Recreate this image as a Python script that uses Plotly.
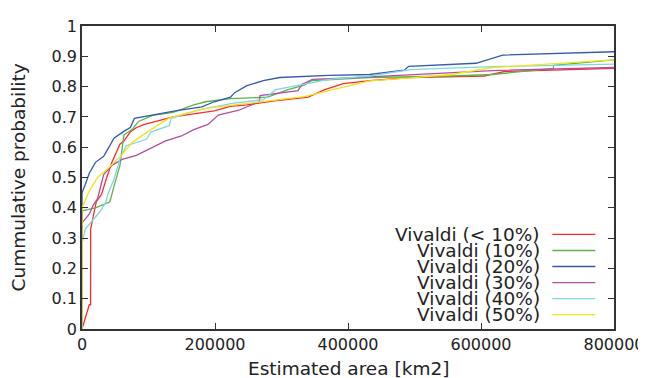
import plotly.graph_objects as go

names = ["Vivaldi (< 10%)", "Vivaldi (10%)", "Vivaldi (20%)", "Vivaldi (30%)", "Vivaldi (40%)", "Vivaldi (50%)"]
colors = ["#ff2a2a", "#5cb548", "#3558b0", "#b04fa2", "#7fd6e6", "#f2e41c"]

red_x = [0, 11000, 12900, 13000, 21500, 29500, 35700, 45000, 57000, 63000, 72500, 82000, 94000, 137000, 199000, 223000, 248000, 297000, 340000, 365000, 393000, 433000, 494000, 605000, 636000, 800000]
red_y = [0, 0.08, 0.08, 0.33, 0.42, 0.445, 0.49, 0.55, 0.61, 0.62, 0.65, 0.665, 0.675, 0.70, 0.72, 0.735, 0.74, 0.755, 0.765, 0.79, 0.81, 0.82, 0.83, 0.835, 0.85, 0.86]

green_x = [0, 0, 20000, 42000, 48000, 57000, 63000, 76000, 85000, 106000, 137000, 168000, 186000, 223000, 279000, 310000, 334000, 346000, 433000, 556000, 617000, 679000, 709000, 709000, 800000]
green_y = [0, 0.39, 0.40, 0.42, 0.47, 0.54, 0.64, 0.66, 0.685, 0.705, 0.715, 0.74, 0.75, 0.76, 0.765, 0.79, 0.805, 0.82, 0.83, 0.835, 0.84, 0.855, 0.86, 0.87, 0.888]

blue_x = [0, 0, 4900, 11100, 20300, 32600, 41800, 48000, 63400, 72600, 78800, 91100, 124900, 140300, 180300, 198800, 223400, 229500, 248000, 272600, 297200, 371100, 432600, 484900, 491100, 592600, 632600, 740300, 800000]
blue_y = [0, 0.45, 0.477, 0.515, 0.55, 0.57, 0.605, 0.63, 0.653, 0.665, 0.695, 0.70, 0.712, 0.72, 0.733, 0.75, 0.765, 0.78, 0.803, 0.82, 0.83, 0.837, 0.84, 0.854, 0.867, 0.877, 0.904, 0.912, 0.915]

purple_x = [0, 0, 11100, 17200, 23400, 32600, 44900, 60300, 81800, 100300, 124900, 149500, 168000, 189500, 204900, 235700, 266500, 267700, 297200, 324900, 331100, 346500, 401900, 494200, 617200, 800000]
purple_y = [0, 0.35, 0.38, 0.41, 0.43, 0.51, 0.54, 0.56, 0.573, 0.594, 0.62, 0.637, 0.658, 0.675, 0.706, 0.722, 0.75, 0.77, 0.778, 0.787, 0.808, 0.824, 0.829, 0.84, 0.853, 0.863]

cyan_x = [0, 0, 4900, 14200, 26500, 35700, 38800, 48000, 57200, 66500, 81800, 97200, 103400, 131100, 134200, 149500, 174200, 223400, 272600, 291100, 309500, 346500, 371100, 432600, 494200, 617200, 800000]
cyan_y = [0, 0.28, 0.33, 0.354, 0.386, 0.418, 0.445, 0.493, 0.562, 0.605, 0.616, 0.626, 0.65, 0.671, 0.695, 0.706, 0.722, 0.744, 0.757, 0.79, 0.797, 0.813, 0.824, 0.835, 0.856, 0.866, 0.874]

yellow_x = [0, 0, 11100, 23400, 38800, 57200, 75700, 100300, 131100, 155700, 186500, 223400, 272600, 334200, 371100, 432600, 494200, 555700, 617200, 800000]
yellow_y = [0, 0.40, 0.456, 0.50, 0.53, 0.568, 0.616, 0.653, 0.696, 0.712, 0.728, 0.738, 0.749, 0.767, 0.787, 0.819, 0.829, 0.84, 0.863, 0.888]

series_x = [red_x, green_x, blue_x, purple_x, cyan_x, yellow_x]
series_y = [red_y, green_y, blue_y, purple_y, cyan_y, yellow_y]

x_ticks = [0, 200000, 400000, 600000, 800000]
y_ticks = [0, 0.1, 0.2, 0.3, 0.4, 0.5, 0.6, 0.7, 0.8, 0.9, 1]

font_family = "DejaVu Sans"
text_color = "#222222"

fig = go.Figure()
for name, c, xs, ys in zip(names, colors, series_x, series_y):
    fig.add_trace(go.Scatter(x=xs, y=ys, mode="lines", name=name,
                             line=dict(color=c, width=1.3), showlegend=False))

axis_common = dict(showgrid=False, zeroline=False, showline=True, linecolor="#333333",
                   linewidth=1.5, mirror="allticks", ticks="inside", ticklen=6,
                   tickcolor="#333333", tickwidth=1,
                   tickfont=dict(family=font_family, size=16, color=text_color))

# page body has an 8px default margin; compensate so the plot sits where the reference has it
fig.update_layout(
    width=646, height=378,
    margin=dict(l=74, r=36, t=9, b=57),
    paper_bgcolor="white", plot_bgcolor="white",
    font=dict(family=font_family, size=16, color=text_color),
    xaxis=dict(range=[0, 800000], tickvals=x_ticks, tickformat="d", **axis_common),
    yaxis=dict(range=[0, 1], tickvals=y_ticks, **axis_common),
)

title_font = dict(family=font_family, size=18.5, color=text_color)
annotations = [
    dict(text="Estimated area [km2]", x=0.5, xref="paper", y=0, yref="paper",
         yshift=-39, yanchor="middle", showarrow=False, font=title_font),
    dict(text="Cummulative probability", x=0, xref="paper", y=0.5, yref="paper",
         xshift=-64, xanchor="center", yanchor="middle", textangle=-90, showarrow=False,
         font=title_font),
]
shapes = []
row_y0 = 0.312  # paper y of first legend row
row_step = 0.0529
for i, (name, c) in enumerate(zip(names, colors)):
    yy = row_y0 - i * row_step
    annotations.append(dict(text=name, x=0.864, xref="paper", y=yy, yref="paper",
                            xanchor="right", yanchor="middle", showarrow=False,
                            font=title_font))
    shapes.append(dict(type="line", xref="paper", yref="paper", x0=0.884, x1=0.965,
                       y0=yy, y1=yy, line=dict(color=c, width=1.3)))

fig.update_layout(annotations=annotations, shapes=shapes)
fig.write_html("out.html")
